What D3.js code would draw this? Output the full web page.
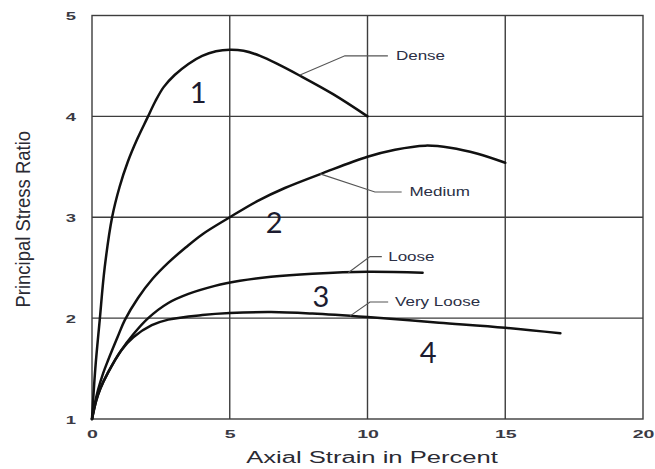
<!DOCTYPE html>
<html>
<head>
<meta charset="utf-8">
<script src="https://cdn.jsdelivr.net/npm/d3@7/dist/d3.min.js"></script>
<style>
  html, body { margin: 0; padding: 0; background: #fff; }
  svg { display: block; }
</style>
</head>
<body>
<svg id="chart" width="655" height="469"></svg>
<script>
// Triaxial test curves: principal stress ratio vs axial strain (%)
const denseCurve = [[0,1],[0.12,1.5],[0.28,1.98],[0.46,2.5],[0.73,3.0],[1.0,3.3],[1.3,3.55],[1.65,3.78],
  [2.0,3.98],[2.3,4.15],[2.6,4.29],[3.0,4.41],[3.5,4.52],[4.0,4.6],[4.5,4.645],[5,4.66],[5.5,4.65],
  [6.1,4.6],[6.8,4.51],[7.5,4.41],[8.75,4.22],[10,4.0]];
const mediumCurve = [[0,1],[0.1,1.15],[0.22,1.29],[0.4,1.45],[0.58,1.58],[0.94,1.82],[1.19,1.98],[1.67,2.2],
  [2.2,2.39],[2.77,2.55],[3.4,2.7],[4,2.83],[5,3.0],[6,3.16],[7,3.29],[8.4,3.44],[10,3.6],[11,3.67],
  [12.1,3.71],[13,3.69],[14,3.63],[15,3.54]];
const looseCurve = [[0,1],[0.15,1.18],[0.3,1.3],[0.58,1.46],[1.06,1.68],[1.5,1.84],[2.04,2.0],[2.77,2.15],
  [3.5,2.24],[4.46,2.32],[5.37,2.37],[6.5,2.41],[8,2.44],[10,2.46],[12,2.45]];
const veryLooseCurve = [[0,1],[0.15,1.18],[0.3,1.3],[0.58,1.46],[1.06,1.68],[1.5,1.81],[2.17,1.93],[2.77,1.985],
  [4,2.03],[5,2.05],[6.5,2.06],[8,2.045],[10,2.01],[12.6,1.955],[15,1.905],[17,1.85]];

const seriesNames = ["Dense", "Medium", "Loose", "Very Loose"];
const seriesNumbers = ["1", "2", "3", "4"];
// leader polylines from each curve to its name, in data units
const leaders = [
  [[7.55,4.41],[9.18,4.60],[10.74,4.60]],
  [[8.28,3.43],[10.27,3.25],[11.24,3.25]],
  [[9.30,2.45],[10.09,2.61],[10.52,2.61]],
  [[9.36,2.02],[10.09,2.16],[10.75,2.16]]
];
const nameAnchors = [[11.03,4.60],[11.52,3.25],[10.75,2.61],[11.0,2.16]];
const numberAnchors = [[3.85,4.13],[6.61,2.84],[8.31,2.11],[12.2,1.555]];

const xTicks = [0, 5, 10, 15, 20];
const yTicks = [1, 2, 3, 4, 5];
const xTitle = "Axial Strain in Percent";
const yTitle = "Principal Stress Ratio";

const curves = [denseCurve, mediumCurve, looseCurve, veryLooseCurve];

const margin = {left: 92, right: 12, top: 15.5, bottom: 50};
const W = 655, H = 469;
const svg = d3.select("#chart");

const x = d3.scaleLinear().domain([0, 20]).range([margin.left, W - margin.right]);
const y = d3.scaleLinear().domain([1, 5]).range([H - margin.bottom, margin.top]);

const gridColor = "#3d3d3d";
const font = "'Liberation Sans', Arial, sans-serif";

// grid
svg.append("g").selectAll("line").data(xTicks.slice(1, -1)).join("line")
  .attr("x1", d => x(d)).attr("x2", d => x(d))
  .attr("y1", y(1)).attr("y2", y(5))
  .attr("stroke", gridColor).attr("stroke-width", 1.4);
svg.append("g").selectAll("line").data(yTicks.slice(1, -1)).join("line")
  .attr("x1", x(0)).attr("x2", x(20))
  .attr("y1", d => y(d)).attr("y2", d => y(d))
  .attr("stroke", gridColor).attr("stroke-width", 1.4);
svg.append("rect")
  .attr("x", x(0)).attr("y", y(5))
  .attr("width", x(20) - x(0)).attr("height", y(1) - y(5))
  .attr("fill", "none").attr("stroke", gridColor).attr("stroke-width", 1.4);

// axes (labels only, wide lettering)
const xAxis = svg.append("g").attr("transform", `translate(0,${y(1)})`)
  .call(d3.axisBottom(x).tickValues(xTicks).tickFormat(d3.format("d")).tickSize(0).tickPadding(0));
xAxis.select(".domain").remove();
xAxis.selectAll("text")
  .attr("x", 0).attr("y", 0).attr("dy", null)
  .attr("transform", "translate(0,19) scale(1.7,1)")
  .attr("font-family", font).attr("font-size", 11.5).attr("font-weight", "bold")
  .attr("fill", "#3a3a44");

const yAxis = svg.append("g").attr("transform", `translate(${x(0)},0)`)
  .call(d3.axisLeft(y).tickValues(yTicks).tickFormat(d3.format("d")).tickSize(0).tickPadding(0));
yAxis.select(".domain").remove();
yAxis.selectAll("text")
  .attr("x", 0).attr("dy", "0.35em")
  .attr("text-anchor", "end")
  .attr("transform", "translate(-16,0) scale(1.6,1)")
  .attr("font-family", font).attr("font-size", 11.5).attr("font-weight", "bold")
  .attr("fill", "#3a3a44");

// axis titles
svg.append("text")
  .attr("transform", `translate(${(x(0) + x(20)) / 2 + 4.5},463) scale(1.6,1)`)
  .attr("text-anchor", "middle")
  .attr("font-family", font).attr("font-size", 16)
  .attr("fill", "#2a2a33")
  .text(xTitle);

svg.append("text")
  .attr("transform", `translate(30,${(y(1) + y(5)) / 2 + 2}) rotate(-90) scale(0.88,1)`)
  .attr("text-anchor", "middle")
  .attr("font-family", font).attr("font-size", 21)
  .attr("fill", "#2a2a33")
  .text(yTitle);

// curves
const line = d3.line().x(d => x(d[0])).y(d => y(d[1])).curve(d3.curveCatmullRom.alpha(0.5));
svg.append("g").selectAll("path").data(curves).join("path")
  .attr("d", line)
  .attr("fill", "none").attr("stroke", "#111")
  .attr("stroke-width", 2.5).attr("stroke-linejoin", "round").attr("stroke-linecap", "round");

// leader lines
const leaderLine = d3.line().x(d => x(d[0])).y(d => y(d[1]));
svg.append("g").selectAll("path").data(leaders).join("path")
  .attr("d", leaderLine)
  .attr("fill", "none").attr("stroke", "#555").attr("stroke-width", 1.1);

// series names
svg.append("g").selectAll("text").data(seriesNames).join("text")
  .attr("transform", (d, i) => `translate(${x(nameAnchors[i][0])},${y(nameAnchors[i][1])}) scale(1.42,1)`)
  .attr("dy", "0.35em")
  .attr("font-family", font).attr("font-size", 12)
  .attr("fill", "#2b2f45")
  .text(d => d);

// curve numbers
svg.append("g").selectAll("text").data(seriesNumbers).join("text")
  .attr("x", (d, i) => x(numberAnchors[i][0]))
  .attr("y", (d, i) => y(numberAnchors[i][1]))
  .attr("text-anchor", "middle")
  .attr("font-family", "Lato, 'Open Sans', sans-serif").attr("font-size", 29)
  .attr("fill", "#1c1c30")
  .text(d => d);
</script>
</body>
</html>
